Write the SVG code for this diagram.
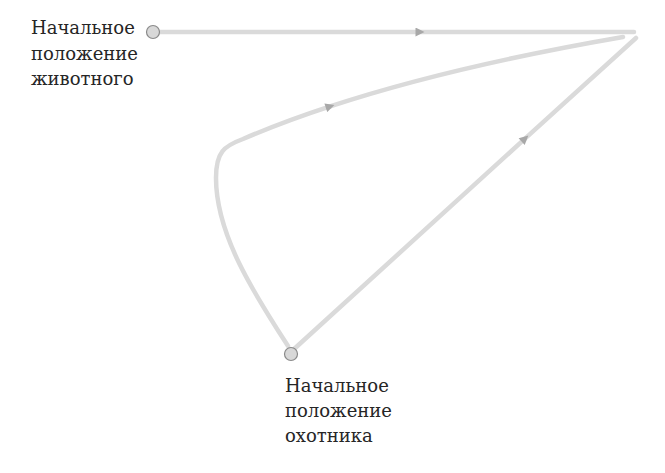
<svg xmlns="http://www.w3.org/2000/svg" width="665" height="473" viewBox="0 0 665 473">
<style>
.path{fill:none;stroke:#dadada;stroke-width:4.5;stroke-linecap:round}
.arr{marker-mid:url(#ah)}
.arrend{marker-end:url(#ah)}
.node{fill:#d8d8d8;stroke:#8a8a8a;stroke-width:1.2}
.lbl{font-family:"DejaVu Serif","Liberation Serif",serif;font-size:18px;fill:#262626}
</style>
<defs>
<marker id="ah" viewBox="0 0 10 10" refX="5" refY="5" markerWidth="10" markerHeight="9" markerUnits="userSpaceOnUse" orient="auto">
<path d="M0,0 L10,5 L0,10 Z" fill="#a8a8a8"/>
</marker>
</defs>
<rect width="665" height="473" fill="#fff"/>
<g id="connectors">
<path class="path arr" d="M153 32 L420 32 L634 32"/>
<path class="path arr" d="M293 350 L525 138.6 L636 38"/>
<path class="path" d="M330.1 106.4 Q451.6 66.5 623 37"/>
<path class="path arrend" d="M288 346 C255 295 216 235 216 178 C216 152 224 146 243 139 Q282.8 121.9 330.1 106.4"/>
</g>
<g id="animal">
<circle class="node" cx="153" cy="32" r="6.5"/>
<text class="lbl" x="31" y="34">Начальное</text>
<text class="lbl" x="31" y="60">положение</text>
<text class="lbl" x="31" y="85">животного</text>
</g>
<g id="hunter">
<circle class="node" cx="291" cy="354" r="6.5"/>
<text class="lbl" x="285" y="392">Начальное</text>
<text class="lbl" x="285" y="417">положение</text>
<text class="lbl" x="285" y="442">охотника</text>
</g>
</svg>
